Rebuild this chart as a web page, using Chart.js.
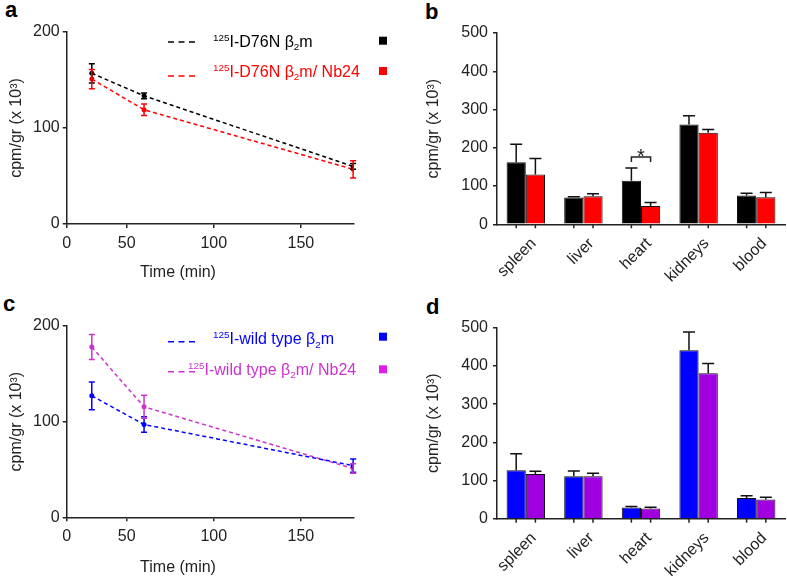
<!DOCTYPE html>
<html>
<head>
<meta charset="utf-8">
<script src="https://cdn.jsdelivr.net/npm/chart.js@4.4.0/dist/chart.umd.min.js"></script>
<style>
  body { margin: 0; background: #fff; width: 787px; height: 580px; position: relative; overflow: hidden; }
  canvas { position: absolute; }
  .tag { position: absolute; font: bold 22px/22px "Liberation Sans", Arial, sans-serif; color: #000; }
</style>
</head>
<body>
<div class="tag" style="left:5px;top:-1px">a</div>
<div class="tag" style="left:425px;top:1px">b</div>
<div class="tag" style="left:3px;top:293px">c</div>
<div class="tag" style="left:426px;top:296px">d</div>
<canvas id="chartA" width="393" height="290" style="left:0;top:0"></canvas>
<canvas id="chartB" width="387" height="290" style="left:400px;top:0"></canvas>
<canvas id="chartC" width="393" height="290" style="left:0;top:290px"></canvas>
<canvas id="chartD" width="387" height="290" style="left:400px;top:290px"></canvas>
<script>
// time course (min) and cpm/gr (x 10^3)
const timePoints = [30, 60, 180];
const timeTickLabels = [0, 50, 100, 150];

const d76n = [157, 133.5, 60];
const d76nErr = [10, 3, 3];
const d76nNb = [151, 119, 57];
const d76nNbErr = [10, 6, 9];

const wt = [127, 97, 54];
const wtErr = [14.5, 8, 7];
const wtNb = [178, 115.5, 51];
const wtNbErr = [13, 12, 5];

// biodistribution
const organs = ['spleen', 'liver', 'heart', 'kidneys', 'blood'];
const d76nOrgan = [162, 70, 114, 261, 75];
const d76nOrganErr = [47, 2, 33, 23, 6];
const d76nNbOrgan = [130, 73, 48, 239, 71];
const d76nNbOrganErr = [42, 7, 9, 9, 12];
const wtOrgan = [127, 111, 29, 441, 54];
const wtOrganErr = [43, 14, 3, 48, 6];
const wtNbOrgan = [117, 111, 27, 381, 50];
const wtNbOrganErr = [7, 8, 3, 25, 6];

// significance mark in panel b
const sigCategory = 'heart';
const sigLevel = 176;

const fontFamily = '"Liberation Sans", Arial, sans-serif';
const axisColor = '#222';
const yTitle = 'cpm/gr (x 10\u00B3)';

Chart.defaults.font.family = fontFamily;
Chart.defaults.font.size = 16;
Chart.defaults.color = axisColor;
Chart.defaults.animation = false;

// text with ^{sup} and _{sub} parts
function richParts(s) {
  return s.split(/(\^\{[^}]*\}|_\{[^}]*\})/).filter(Boolean).map(function (p) {
    if (p.startsWith('^{')) return { t: p.slice(2, -1), mode: 'sup' };
    if (p.startsWith('_{')) return { t: p.slice(2, -1), mode: 'sub' };
    return { t: p, mode: 'normal' };
  });
}
function drawRich(ctx, s, x, y, size, color) {
  ctx.fillStyle = color;
  ctx.textBaseline = 'alphabetic';
  ctx.textAlign = 'left';
  richParts(s).forEach(function (p) {
    let fs = size, dy = 0;
    if (p.mode === 'sup') { fs = size * 0.62; dy = -size * 0.38; }
    if (p.mode === 'sub') { fs = size * 0.62; dy = size * 0.22; }
    ctx.font = fs + 'px ' + fontFamily;
    ctx.fillText(p.t, x, y + dy);
    x += ctx.measureText(p.t).width;
  });
}

const errorBars = {
  id: 'errorBars',
  afterDatasetsDraw(chart, args, o) {
    const ctx = chart.ctx, ys = chart.scales.y;
    chart.data.datasets.forEach(function (ds, i) {
      if (!ds.errors) return;
      const meta = chart.getDatasetMeta(i);
      ctx.save();
      ctx.strokeStyle = ds.errorColor;
      ctx.lineWidth = 1.5;
      meta.data.forEach(function (el, j) {
        const raw = ds.data[j];
        const v = typeof raw === 'object' ? raw.y : raw;
        const e = ds.errors[j];
        const yTop = ys.getPixelForValue(v + e);
        const yBot = ys.getPixelForValue(o.upperOnly ? v : v - e);
        ctx.beginPath();
        ctx.moveTo(el.x, yBot); ctx.lineTo(el.x, yTop);
        ctx.moveTo(el.x - o.cap, yTop); ctx.lineTo(el.x + o.cap, yTop);
        if (!o.upperOnly) { ctx.moveTo(el.x - o.cap, yBot); ctx.lineTo(el.x + o.cap, yBot); }
        ctx.stroke();
      });
      ctx.restore();
    });
  }
};

// small tick under each bar, like the original
const barTicks = {
  id: 'barTicks',
  afterDraw(chart) {
    const ctx = chart.ctx, b = chart.chartArea.bottom;
    ctx.save();
    ctx.strokeStyle = axisColor;
    ctx.lineWidth = 1.5;
    chart.data.datasets.forEach(function (ds, i) {
      chart.getDatasetMeta(i).data.forEach(function (el) {
        ctx.beginPath(); ctx.moveTo(el.x, b); ctx.lineTo(el.x, b + 4); ctx.stroke();
      });
    });
    ctx.restore();
  }
};

const dashLegend = {
  id: 'dashLegend',
  afterDraw(chart, args, o) {
    const ctx = chart.ctx;
    chart.data.datasets.forEach(function (ds, i) {
      const r = o.rows[i];
      ctx.save();
      ctx.strokeStyle = ds.borderColor;
      ctx.lineWidth = 1.5;
      ctx.setLineDash([6, 4.5]);
      ctx.beginPath(); ctx.moveTo(o.dashX[0], r.dashY); ctx.lineTo(o.dashX[1], r.dashY); ctx.stroke();
      ctx.setLineDash([]);
      drawRich(ctx, ds.label, r.textX, r.textY + 5.7, 16, ds.textColor);
      ctx.fillStyle = ds.squareColor;
      ctx.fillRect(o.squareX - 4, r.squareY - 4, 8, 8);
      ctx.restore();
    });
  }
};

const freeTitle = {
  id: 'freeTitle',
  afterDraw(chart, args, o) {
    const ctx = chart.ctx;
    ctx.save();
    ctx.font = '16px ' + fontFamily;
    ctx.fillStyle = axisColor;
    ctx.textAlign = 'center';
    ctx.textBaseline = 'middle';
    ctx.fillText(o.text, o.x, o.y);
    ctx.restore();
  }
};

const sigBracket = {
  id: 'sigBracket',
  afterDatasetsDraw(chart, args, o) {
    const idx = chart.data.labels.indexOf(o.category);
    const a = chart.getDatasetMeta(0).data[idx];
    const b = chart.getDatasetMeta(1).data[idx];
    const ys = chart.scales.y;
    const y = ys.getPixelForValue(o.level);
    const ctx = chart.ctx;
    ctx.save();
    ctx.strokeStyle = axisColor;
    ctx.lineWidth = 1.5;
    ctx.beginPath();
    ctx.moveTo(a.x, y + 5); ctx.lineTo(a.x, y); ctx.lineTo(b.x, y); ctx.lineTo(b.x, y + 5);
    ctx.stroke();
    ctx.fillStyle = axisColor;
    ctx.font = '20px ' + fontFamily;
    ctx.textAlign = 'center';
    ctx.textBaseline = 'alphabetic';
    ctx.fillText('*', (a.x + b.x) / 2, y + 6);
    ctx.restore();
  }
};

function yAxis(max, width, titlePad, tickPad) {
  return {
    min: 0, max: max,
    ticks: { stepSize: 100, padding: tickPad, color: axisColor },
    grid: { drawOnChartArea: false, tickLength: 4, color: axisColor, lineWidth: 1.5 },
    border: { color: axisColor, width: 1.5 },
    title: { display: true, text: yTitle, color: axisColor, font: { size: 16 }, padding: { top: titlePad, bottom: 0 } },
    afterFit: function (s) { s.width = width; }
  };
}

function lineChart(id, sets, padTop, xHeight, legendRows, titleY) {
  return new Chart(document.getElementById(id), {
    type: 'line',
    data: {
      datasets: sets.map(function (s) {
        return {
          label: s.label,
          data: timePoints.map(function (t, i) { return { x: t, y: s.values[i] }; }),
          errors: s.errors,
          borderColor: s.color,
          errorColor: s.color,
          textColor: s.color,
          squareColor: s.square,
          backgroundColor: s.color,
          pointBackgroundColor: s.color,
          pointBorderWidth: 0,
          pointRadius: 2.5,
          borderWidth: 1.5,
          borderDash: [4, 3],
          tension: 0,
          fill: false
        };
      })
    },
    options: {
      responsive: false,
      devicePixelRatio: 1,
      layout: { padding: { left: 0, top: padTop, right: 39, bottom: 0 } },
      scales: {
        x: {
          type: 'linear', min: 15.6, max: 180.5,
          afterBuildTicks: function (s) {
            s.ticks = timeTickLabels.map(function (v) { return { value: Math.max(v, s.min) }; });
          },
          ticks: {
            autoSkip: false, maxRotation: 0, padding: 6, color: axisColor,
            callback: function (v, i) { return String(timeTickLabels[i]); }
          },
          grid: { drawOnChartArea: false, tickLength: 4, color: axisColor, lineWidth: 1.5 },
          border: { color: axisColor, width: 1.5 },
          afterFit: function (s) { s.height = xHeight; }
        },
        y: yAxis(200, 66.7, 7, 3)
      },
      plugins: {
        legend: { display: false },
        tooltip: { enabled: false },
        errorBars: { cap: 3, upperOnly: false },
        dashLegend: { dashX: [168, 195], squareX: 383, rows: legendRows },
        freeTitle: { text: 'Time (min)', x: 178, y: titleY }
      }
    },
    plugins: [errorBars, dashLegend, freeTitle]
  });
}

function barChart(id, sets, padTop, xHeight, extra) {
  const plugins = [errorBars, barTicks];
  if (extra) plugins.push(sigBracket);
  return new Chart(document.getElementById(id), {
    type: 'bar',
    data: {
      labels: organs,
      datasets: sets.map(function (s) {
        return {
          data: s.values,
          errors: s.errors,
          errorColor: '#111',
          backgroundColor: s.color,
          borderColor: '#111',
          borderWidth: 1,
          barPercentage: 1,
          categoryPercentage: 0.667
        };
      })
    },
    options: {
      responsive: false,
      devicePixelRatio: 1,
      layout: { padding: { left: 0, top: padTop, right: 2, bottom: 0 } },
      scales: {
        x: {
          offset: true,
          grid: { display: false, drawTicks: false },
          border: { color: axisColor, width: 1.5 },
          ticks: { autoSkip: false, minRotation: 45, maxRotation: 45, padding: 10, labelOffset: 8, color: axisColor },
          afterFit: function (s) { s.height = xHeight; }
        },
        y: yAxis(500, 97, 24, 5)
      },
      plugins: {
        legend: { display: false },
        tooltip: { enabled: false },
        errorBars: { cap: 6, upperOnly: true },
        sigBracket: extra || {}
      }
    },
    plugins: plugins
  });
}

lineChart('chartA', [
  { label: '^{125}I-D76N \u03B2_{2}m', values: d76n, errors: d76nErr, color: '#000000', square: '#000000' },
  { label: '^{125}I-D76N \u03B2_{2}m/ Nb24', values: d76nNb, errors: d76nNbErr, color: '#ff0000', square: '#ff0000' }
], 32, 66, [
  { textX: 213, textY: 41, dashY: 42, squareY: 40.7 },
  { textX: 213, textY: 71, dashY: 76, squareY: 71 }
], 272.7);

lineChart('chartC', [
  { label: '^{125}I-wild type \u03B2_{2}m', values: wt, errors: wtErr, color: '#0000ff', square: '#0000ff' },
  { label: '^{125}I-wild type \u03B2_{2}m/ Nb24', values: wtNb, errors: wtNbErr, color: '#cc33cc', square: '#e020e0' }
], 36, 62.7, [
  { textX: 213, textY: 48.3, dashY: 51.7, squareY: 46.7 },
  { textX: 188, textY: 79, dashY: 81.7, squareY: 79.3 }
], 277.7);

barChart('chartB', [
  { values: d76nOrgan, errors: d76nOrganErr, color: '#000000' },
  { values: d76nNbOrgan, errors: d76nNbOrganErr, color: '#ff0000' }
], 33, 65.7, { category: sigCategory, level: sigLevel });

barChart('chartD', [
  { values: wtOrgan, errors: wtOrganErr, color: '#0000ff' },
  { values: wtNbOrgan, errors: wtNbOrganErr, color: '#a000e0' }
], 37.7, 61.3, null);
</script>
</body>
</html>
